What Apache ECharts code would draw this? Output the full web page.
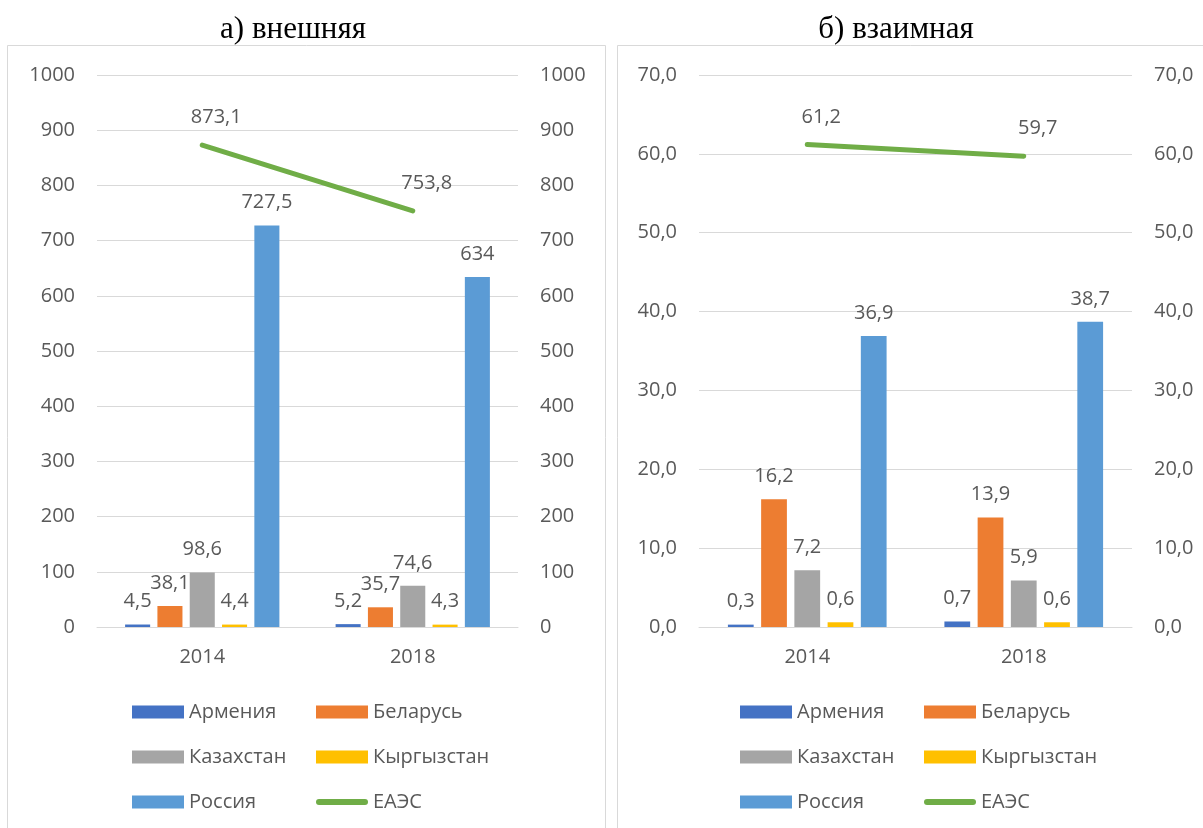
<!DOCTYPE html>
<html>
<head>
<meta charset="utf-8">
<title>ЕАЭС</title>
<script src="https://cdn.jsdelivr.net/npm/echarts@6/dist/echarts.min.js"></script>
<style>
  html, body { margin: 0; padding: 0; background: #fff; }
  #main { width: 1203px; height: 828px; }
</style>
</head>
<body>
<div id="main"></div>
<script>
// годы
var years = ['2014', '2018'];
var countries = ['Армения', 'Беларусь', 'Казахстан', 'Кыргызстан', 'Россия'];

// а) внешняя
var extArmenia = [4.5, 5.2];
var extBelarus = [38.1, 35.7];
var extKazakh = [98.6, 74.6];
var extKyrgyz = [4.4, 4.3];
var extRussia = [727.5, 634];
var extEaeu = [873.1, 753.8];

// б) взаимная
var mutArmenia = [0.3, 0.7];
var mutBelarus = [16.2, 13.9];
var mutKazakh = [7.2, 5.9];
var mutKyrgyz = [0.6, 0.6];
var mutRussia = [36.9, 38.7];
var mutEaeu = [61.2, 59.7];

var colors = ['#4472C4', '#ED7D31', '#A5A5A5', '#FFC000', '#5B9BD5'];
var lineColor = '#70AD47';
var txt = '#595959';
var font = 'Open Sans';

function comma(v) { return String(v).replace('.', ','); }

function yAx(grid, pos, max, step, fmt) {
    return {
        type: 'value', gridIndex: grid, position: pos,
        min: 0, max: max, interval: step,
        axisLine: {show: false}, axisTick: {show: false},
        splitLine: {show: pos == 'left', lineStyle: {color: '#D9D9D9', width: 1}},
        axisLabel: {color: txt, fontSize: 20, fontFamily: font, margin: 22, formatter: fmt}
    };
}

function xAx(grid) {
    return {
        type: 'category', gridIndex: grid, data: years,
        axisLine: {show: true, lineStyle: {color: '#D9D9D9', width: 1}},
        axisTick: {show: false},
        axisLabel: {color: txt, fontSize: 20, fontFamily: font, margin: 20}
    };
}

function bars(grid, yIdx, lists) {
    return lists.map(function (d, i) {
        return {
            name: countries[i], type: 'bar', xAxisIndex: grid, yAxisIndex: yIdx,
            data: d, barGap: '29%', barCategoryGap: '26.7%',
            itemStyle: {color: colors[i]},
            label: {show: true, position: 'top', distance: 13, color: txt, fontSize: 20, fontFamily: font,
                    formatter: function (p) { return comma(p.value); }}
        };
    });
}

function line(grid, yIdx, d) {
    return {
        name: 'ЕАЭС', type: 'line', xAxisIndex: grid, yAxisIndex: yIdx, data: d,
        symbol: 'circle', symbolSize: 1,
        itemStyle: {color: lineColor},
        lineStyle: {color: lineColor, width: 5, cap: 'round'},
        label: {show: true, position: 'top', distance: 5, offset: [14, -12], color: txt, fontSize: 20, fontFamily: font,
                formatter: function (p) { return comma(p.value); }}
    };
}

function legendCol(left, names) {
    return {
        left: left, top: 702, orient: 'vertical', itemGap: 25, padding: 0,
        itemWidth: 52, itemHeight: 13, icon: 'rect',
        textStyle: {color: txt, fontSize: 20, fontFamily: font},
        data: names.map(function (n) {
            if (n != 'ЕАЭС') return n;
            return {name: n, icon: 'path://M3,0 L49,0 A3,3 0 0 1 49,6 L3,6 A3,3 0 0 1 3,0 Z', symbolKeepAspect: true};
        })
    };
}

var myChart = echarts.init(document.getElementById('main'));
var intFmt = function (v) { return v; };
var decFmt = function (v) { return v.toFixed(1).replace('.', ','); };

var option = {
    backgroundColor: '#fff',
    animation: false,
    title: [
        {text: 'а) внешняя', left: 293, top: 14, padding: 0, textAlign: 'center',
         textStyle: {fontFamily: 'Liberation Serif', fontWeight: 'normal', fontSize: 31, color: '#000'}},
        {text: 'б) взаимная', left: 896, top: 14, padding: 0, textAlign: 'center',
         textStyle: {fontFamily: 'Liberation Serif', fontWeight: 'normal', fontSize: 31, color: '#000'}}
    ],
    graphic: [
        {type: 'rect', shape: {x: 7.5, y: 45.5, width: 598, height: 820}, style: {fill: 'none', stroke: '#D9D9D9', lineWidth: 1}, silent: true},
        {type: 'rect', shape: {x: 617.5, y: 45.5, width: 620, height: 820}, style: {fill: 'none', stroke: '#D9D9D9', lineWidth: 1}, silent: true}
    ],
    legend: [
        legendCol(132, ['Армения', 'Казахстан', 'Россия']),
        legendCol(316, ['Беларусь', 'Кыргызстан', 'ЕАЭС']),
        legendCol(740, ['Армения', 'Казахстан', 'Россия']),
        legendCol(924, ['Беларусь', 'Кыргызстан', 'ЕАЭС'])
    ],
    grid: [
        {left: 97, right: 685, top: 75, bottom: 201},
        {left: 699, right: 71, top: 75, bottom: 201}
    ],
    xAxis: [xAx(0), xAx(1)],
    yAxis: [
        yAx(0, 'left', 1000, 100, intFmt),
        yAx(0, 'right', 1000, 100, intFmt),
        yAx(1, 'left', 70, 10, decFmt),
        yAx(1, 'right', 70, 10, decFmt)
    ],
    series: [].concat(
        bars(0, 0, [extArmenia, extBelarus, extKazakh, extKyrgyz, extRussia]),
        [line(0, 1, extEaeu)],
        bars(1, 2, [mutArmenia, mutBelarus, mutKazakh, mutKyrgyz, mutRussia]),
        [line(1, 3, mutEaeu)]
    )
};
myChart.setOption(option);
</script>
</body>
</html>
